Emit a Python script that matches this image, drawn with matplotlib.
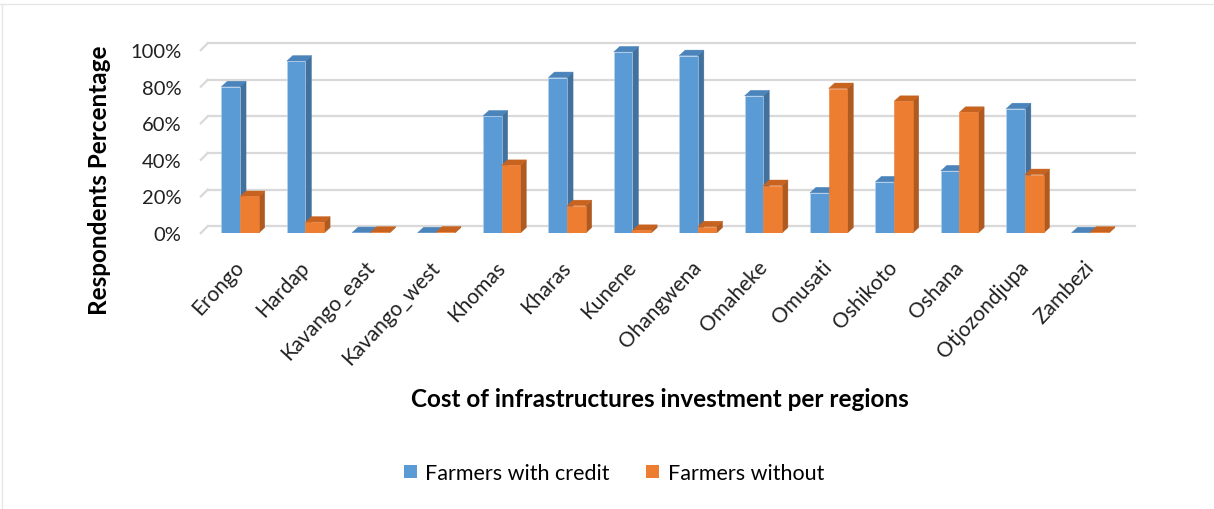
import matplotlib
matplotlib.use("Agg")
import matplotlib.pyplot as plt
import matplotlib.transforms as mtransforms
from matplotlib.patches import Polygon, Rectangle
from matplotlib.lines import Line2D

plt.rcParams['font.family'] = ['Lato', 'DejaVu Sans']

# data
regions = ["Erongo", "Hardap", "Kavango_east", "Kavango_west", "Khomas", "Kharas",
           "Kunene", "Ohangwena", "Omaheke", "Omusati", "Oshikoto", "Oshana",
           "Otjozondjupa", "Zambezi"]
with_credit = [80, 94, 0.3, 0.2, 64, 85, 99, 97, 75, 22, 28, 34, 68, 0.2]
without_credit = [20, 6, 0.5, 0.6, 37, 15, 1.5, 3.5, 26, 79, 72, 66, 32, 0.5]
yticks = [0, 20, 40, 60, 80, 100]
series_names = ["Farmers with credit", "Farmers without"]

blue = ("#5b9bd5", "#41719c", "#4a84bb")
orange = ("#ed7d31", "#ae5a21", "#c8621f")

fig = plt.figure(figsize=(12.14, 5.10), dpi=100)
ax = fig.add_axes([0.1654, 0.541, 0.765, 0.3947])
ax.set_xlim(-0.6, 13.6)
ax.set_ylim(0, 110)
for s in ax.spines.values():
    s.set_visible(False)

# 3d offsets (data units)
wdx, wdy = 0.107, 3.8   # back wall
bdx, bdy = 0.092, 3.0   # bar depth
bw = 0.285

# back wall gridlines + left floor diagonals
for v in yticks:
    ax.add_line(Line2D([-0.6 + wdx, 13.6 + 0.09], [v + wdy, v + wdy], color="#d9d9d9",
                       lw=1.6, clip_on=False, zorder=1))
    ax.add_line(Line2D([-0.6, -0.6 + wdx], [v, v + wdy], color="#d9d9d9",
                       lw=1.6, clip_on=False, zorder=1))


def bar3d(x0, h, cols, z):
    front, side, top = cols
    ax.add_patch(Rectangle((x0, 0), bw, h, facecolor=front, edgecolor="#bcd3ec" if front == blue[0] else front,
                           lw=0.4, zorder=z + 0.3))
    ax.add_patch(Polygon([(x0 + bw, 0), (x0 + bw + bdx, bdy), (x0 + bw + bdx, h + bdy), (x0 + bw, h)],
                         closed=True, facecolor=side, edgecolor=side, lw=0.3, zorder=z + 0.2))
    ax.add_patch(Polygon([(x0, h), (x0 + bdx, h + bdy), (x0 + bw + bdx, h + bdy), (x0 + bw, h)],
                         closed=True, facecolor=top, edgecolor=top, lw=0.3, zorder=z + 0.2))


for i in range(len(regions)):
    bar3d(i - bw, with_credit[i], blue, 2 + i)
    bar3d(i, without_credit[i], orange, 2.5 + i)

ax.set_yticks(yticks)
ax.set_yticklabels([f"{v}%" for v in yticks], fontsize=14.5, color="#202020")
ax.tick_params(axis="y", length=0, pad=14)
ax.set_xticks(range(len(regions)))
ax.set_xticklabels(regions, rotation=47, ha="right", rotation_mode="anchor",
                   fontsize=15, color="#202020")
ax.tick_params(axis="x", length=0, pad=17)
shift = mtransforms.ScaledTranslation(-7 / 100, 0, fig.dpi_scale_trans)
for lab in ax.get_xticklabels():
    lab.set_transform(lab.get_transform() + shift)

fig.text(100 / 1214, 1 - 180 / 510, "Respondents Percentage", rotation=90, ha="center",
         va="center", fontsize=17.5, fontweight="bold", color="#000000")
fig.text(660 / 1214, 1 - 400 / 510, "Cost of infrastructures investment per regions",
         ha="center", va="center", fontsize=17.5, fontweight="bold", color="#000000")

handles = [Rectangle((0, 0), 1, 1, facecolor=blue[0]), Rectangle((0, 0), 1, 1, facecolor=orange[0])]
fig.legend(handles, series_names, loc="center", bbox_to_anchor=(614 / 1214, 1 - 474 / 510),
           ncol=2, frameon=False, fontsize=15.5, handlelength=0.6, handleheight=0.6,
           handletextpad=0.4, columnspacing=1.7)

# chart area border
fig.add_artist(Line2D([0, 1], [1 - 5 / 510, 1 - 5 / 510], color="#e6e6e6", lw=1))
fig.add_artist(Line2D([2 / 1214, 2 / 1214], [0, 1 - 5 / 510], color="#e6e6e6", lw=1))

fig.savefig("out.png", dpi=100)
